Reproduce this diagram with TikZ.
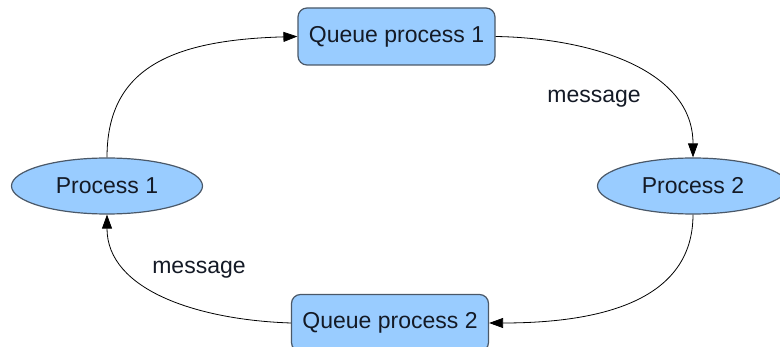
\documentclass[tikz,border=0pt]{standalone}
\usepackage{fontspec}
\setmainfont{Liberation Sans}
\usetikzlibrary{shapes.geometric,arrows.meta}
\definecolor{boxfill}{HTML}{99CCFF}
\definecolor{boxline}{HTML}{4A5868}
\definecolor{txt}{HTML}{141A26}
\begin{document}
\begin{tikzpicture}[x=1pt,y=-1pt,
  every node/.style={font=\fontsize{23}{27}\selectfont, text=txt},
  queuebox/.style={draw=boxline, line width=1.2pt, fill=boxfill, rounded corners=9pt,
    minimum width=197pt, minimum height=57pt, inner sep=0pt},
  procell/.style={ellipse, draw=boxline, line width=1.2pt, fill=boxfill,
    minimum width=191pt, minimum height=56pt, inner sep=0pt},
  conn/.style={draw=black, line width=0.8pt, -{Triangle[length=14pt,width=10pt]}},
  msglabel/.style={inner sep=0pt}]
\useasboundingbox (0,0) rectangle (780,347);
\node[queuebox] (q1) at (396.5,36.5) {Queue process 1};
\node[queuebox] (q2) at (390,323) {Queue process 2};
\node[procell] (p1) at (107,186) {Process 1};
\node[procell] (p2) at (693,186) {Process 2};
\draw[conn] (p1.north) .. controls +(0,-88) and +(-128,3.5) .. (q1.west);
\draw[conn] (q1.east) .. controls +(95,1.5) and +(0,-88) .. (p2.north);
\draw[conn] (p2.south) .. controls +(0,86) and +(112,0) .. (q2.east);
\draw[conn] (q2.west) .. controls +(-92,-3) and +(0,76) .. (p1.south);
\node[msglabel] (m1) at (594,99) {message};
\node[msglabel] (m2) at (199,270) {message};
\end{tikzpicture}
\end{document}
